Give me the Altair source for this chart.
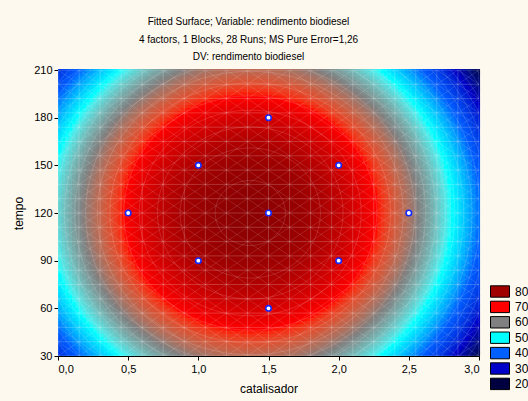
import altair as alt
import numpy as np
import pandas as pd

# ---- experimental design points (CCD) ----
catalisador_pts = [1.0, 1.0, 2.0, 2.0, 1.5, 0.5, 2.5, 1.5, 1.5]
tempo_pts = [90, 150, 90, 150, 120, 120, 120, 60, 180]

# ---- fitted quadratic surface (coded units: x=(cat-1.5)/0.5, y=(tempo-120)/30) ----
Z_MAX = 83.0
CAT_OPT = 1.37
TEMPO_OPT = 120.0
CURV_CAT = 4.0
CURV_TEMPO = 2.15

# ---- colour levels (legend) ----
legend_levels = ["80", "70", "60", "50", "40", "30", "20"]
legend_colors = ["#A00000", "#FF0000", "#808080", "#00FFFF", "#0060FF", "#0000C8", "#000040"]
scale_domain = [20, 30, 40, 50, 60, 70, 80, 90]
scale_range = ["#000040", "#0000C8", "#0060FF", "#00FFFF", "#808080", "#FF0000", "#A00000", "#600000"]

x_ticks = [0.0, 0.5, 1.0, 1.5, 2.0, 2.5, 3.0]
y_ticks = [30, 60, 90, 120, 150, 180, 210]
contour_levels = list(range(22, 83, 3))

FONT = "Liberation Sans"


def surface(c, t):
    u = (c - CAT_OPT) / 0.5
    v = (t - TEMPO_OPT) / 30.0
    return Z_MAX - CURV_CAT * u ** 2 - CURV_TEMPO * v ** 2


# grid for the colour surface
nx, ny = 120, 90
dx, dy = 3.0 / nx, 180.0 / ny
xs = np.arange(nx) * dx
ys = 30 + np.arange(ny) * dy
XX, YY = np.meshgrid(xs, ys)
grid = pd.DataFrame({
    "x0": XX.ravel(), "x1": XX.ravel() + dx * 1.3,
    "y0": YY.ravel(), "y1": YY.ravel() + dy * 1.3,
})
grid["z"] = surface(grid["x0"] + dx / 2, grid["y0"] + dy / 2)

# mesh lines (20 x 20 fit grid)
mesh_x = pd.DataFrame({"x": np.linspace(0, 3, 21)})
mesh_y = pd.DataFrame({"y": np.linspace(30, 210, 21)})
cs = np.arange(-3.0, 3.0001, 0.15)
diag_up = pd.DataFrame({"x": cs, "x2": cs + 3, "y": 30.0, "y2": 210.0})
diag_dn = pd.DataFrame({"x": cs, "x2": cs + 3, "y": 210.0, "y2": 30.0})

# contour ellipses from the surface
rows = []
th = np.linspace(0, 2 * np.pi, 121)
for L in contour_levels:
    r = Z_MAX - L
    a = np.sqrt(r / CURV_CAT) * 0.5
    b = np.sqrt(r / CURV_TEMPO) * 30.0
    for i, t in enumerate(th):
        rows.append({"lvl": L, "i": i, "x": CAT_OPT + a * np.cos(t), "y": TEMPO_OPT + b * np.sin(t)})
contours = pd.DataFrame(rows)

pts = pd.DataFrame({"x": catalisador_pts, "y": tempo_pts})
leg = pd.DataFrame({"lvl": legend_levels, "x": [1.5] * 7, "y": [120] * 7})

xscale = alt.Scale(domain=[0, 3], nice=False, zero=False)
yscale = alt.Scale(domain=[30, 210], nice=False, zero=False)
xaxis = alt.Axis(values=x_ticks, labelExpr="replace(format(datum.value, '.1f'), '.', ',')",
                 title="catalisador", grid=False, domain=False, tickColor="black", tickSize=4,
                 labelPadding=3, labelFont=FONT, labelFontSize=11, labelColor="black",
                 titleFont=FONT, titleFontSize=12, titleFontWeight="normal", titleColor="black",
                 titlePadding=9)
yaxis = alt.Axis(values=y_ticks, title="tempo", grid=False, domain=False, tickColor="black",
                 tickSize=4, labelPadding=2, labelFont=FONT, labelFontSize=11, labelColor="black",
                 titleFont=FONT, titleFontSize=12, titleFontWeight="normal", titleColor="black",
                 titlePadding=8)

heat = alt.Chart(grid).mark_rect(strokeWidth=0).encode(
    x=alt.X("x0:Q", scale=xscale, axis=xaxis), x2="x1:Q",
    y=alt.Y("y0:Q", scale=yscale, axis=yaxis), y2="y1:Q",
    color=alt.Color("z:Q", scale=alt.Scale(domain=scale_domain, range=scale_range, clamp=True), legend=None),
)

line_style = dict(color="white", opacity=0.26, strokeWidth=0.8, clip=True)

vl = alt.Chart(mesh_x).mark_rule(**line_style).encode(
    x=alt.X("x:Q", scale=xscale, axis=xaxis))
hl = alt.Chart(mesh_y).mark_rule(**line_style).encode(
    y=alt.Y("y:Q", scale=yscale, axis=yaxis))
du = alt.Chart(diag_up).mark_rule(color="white", opacity=0.16, strokeWidth=0.8, clip=True).encode(
    x=alt.X("x:Q", scale=xscale, axis=xaxis), x2="x2:Q",
    y=alt.Y("y:Q", scale=yscale, axis=yaxis), y2="y2:Q")
dd = alt.Chart(diag_dn).mark_rule(color="white", opacity=0.16, strokeWidth=0.8, clip=True).encode(
    x=alt.X("x:Q", scale=xscale, axis=xaxis), x2="x2:Q",
    y=alt.Y("y:Q", scale=yscale, axis=yaxis), y2="y2:Q")
ct = alt.Chart(contours).mark_line(color="white", opacity=0.18, strokeWidth=0.8, clip=True).encode(
    x=alt.X("x:Q", scale=xscale, axis=xaxis),
    y=alt.Y("y:Q", scale=yscale, axis=yaxis),
    detail="lvl:N", order="i:Q")

points = alt.Chart(pts).mark_circle(size=30, color="white", opacity=1, stroke="#1428FF",
                                    strokeWidth=1.6).encode(
    x=alt.X("x:Q", scale=xscale, axis=xaxis),
    y=alt.Y("y:Q", scale=yscale, axis=yaxis))

legend_layer = alt.Chart(leg).mark_square(opacity=0, size=1).encode(
    x=alt.X("x:Q", scale=xscale, axis=xaxis),
    y=alt.Y("y:Q", scale=yscale, axis=yaxis),
    color=alt.Color("lvl:N", scale=alt.Scale(domain=legend_levels, range=legend_colors),
                    legend=alt.Legend(title=None, orient="none", legendX=435.5, legendY=215,
                                      symbolType="M-1.583,-0.95H1.583V0.95H-1.583Z",
                                      symbolSize=144, symbolOpacity=1,
                                      symbolStrokeColor="black", symbolStrokeWidth=1,
                                      labelFont=FONT, labelFontSize=12, labelColor="black",
                                      labelOffset=8.5, rowPadding=-1.6, padding=0)),
)

chart = alt.layer(heat, vl, hl, du, dd, ct, points, legend_layer).resolve_scale(
    color="independent"
).properties(
    width=421, height=286,
    autosize=alt.AutoSizeParams(type="none"),
    padding={"left": 58, "top": 70, "right": 49, "bottom": 45},
    title=alt.Title(
        text=["Fitted Surface; Variable: rendimento biodiesel",
              "4 factors, 1 Blocks, 28 Runs; MS Pure Error=1,26",
              "DV: rendimento biodiesel"],
        font=FONT, fontSize=10, fontWeight="normal", color="black",
        anchor="middle", dx=-20, lineHeight=17.5, offset=2),
).configure(background="#FDF9EF").configure_view(stroke="black", strokeWidth=1)

chart.save("out.html", embed_options={"renderer": "svg", "actions": False})
